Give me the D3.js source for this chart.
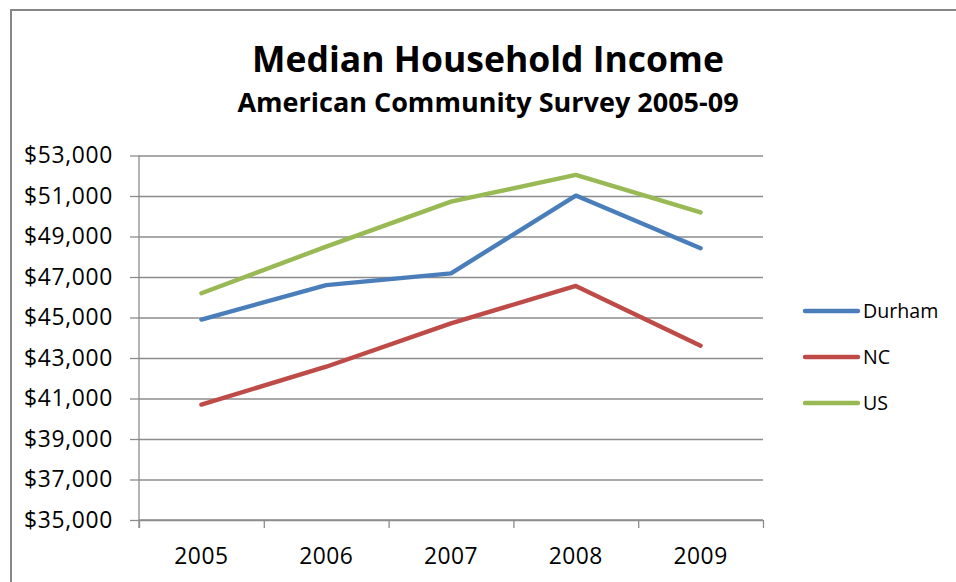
<!DOCTYPE html>
<html>
<head>
<meta charset="utf-8">
<script src="https://cdn.jsdelivr.net/npm/d3@7"></script>
<style>
  html, body { margin: 0; padding: 0; background: #fff; }
  svg { display: block; }
  text { font-family: "Open Sans", "Noto Sans", sans-serif; fill: #000; }
</style>
</head>
<body>
<svg id="chart" width="956" height="582"></svg>
<script>
// ---- data ----
const years = ["2005", "2006", "2007", "2008", "2009"];
const seriesNames = ["Durham", "NC", "US"];
const durham = [44900, 46600, 47180, 51020, 48420];
const nc = [40700, 42570, 44710, 46560, 43610];
const us = [46200, 48500, 50720, 52040, 50190];
const yTicks = [35000, 37000, 39000, 41000, 43000, 45000, 47000, 49000, 51000, 53000];
const titleText = "Median Household Income";
const subtitleText = "American Community Survey 2005-09";

const seriesValues = [durham, nc, us];
const colors = ["#4a7ebb", "#be4b48", "#98b954"];

const svg = d3.select("#chart");

// outer frame
svg.append("rect").attr("x", 11).attr("y", 10).attr("width", 960).attr("height", 600)
  .attr("fill", "#fff").attr("stroke", "#878787").attr("stroke-width", 2);

const pLeft = 139, pRight = 763, pTop = 155.5, pBottom = 520;

const x = d3.scaleBand().domain(years).range([pLeft, pRight]).padding(0);
const xEdge = d3.scaleLinear().domain([0, years.length]).range([pLeft, pRight]);
const y = d3.scaleLinear().domain([35000, 53000]).range([pBottom, pTop]);

// gridlines
svg.append("g").attr("transform", `translate(${pLeft},0)`)
  .call(d3.axisLeft(y).tickValues(yTicks).tickSize(-(pRight - pLeft)).tickFormat(""))
  .call(g => g.select(".domain").remove())
  .call(g => g.selectAll("line").attr("stroke", "#8c8c8c").attr("stroke-width", 1.3));

// y axis
svg.append("g").attr("transform", `translate(${pLeft},0)`)
  .call(d3.axisLeft(y).tickValues(yTicks).tickSize(9).tickPadding(17).tickFormat(d3.format("$,")))
  .call(g => g.select(".domain").attr("stroke", "#8c8c8c").attr("stroke-width", 1.3).attr("d", `M0,${pTop}V${pBottom + 8}`))
  .call(g => g.selectAll("line").attr("stroke", "#8c8c8c").attr("stroke-width", 1.3))
  .call(g => g.selectAll("text").attr("font-size", "22.8px").attr("letter-spacing", "0.7px")
    .attr("font-family", "Open Sans").attr("fill", "#000"));

// x axis boundary ticks
svg.append("g").attr("transform", `translate(0,${pBottom})`)
  .call(d3.axisBottom(xEdge).tickValues(d3.range(years.length + 1)).tickSize(8).tickFormat(""))
  .call(g => g.select(".domain").attr("stroke", "#8c8c8c").attr("stroke-width", 1.3).attr("d", `M${pLeft},0H${pRight}`))
  .call(g => g.selectAll("line").attr("stroke", "#8c8c8c").attr("stroke-width", 1.3));

// x labels
svg.append("g").attr("transform", `translate(0,${pBottom})`)
  .call(d3.axisBottom(x).tickSize(0).tickPadding(28))
  .call(g => g.select(".domain").remove())
  .call(g => g.selectAll("text").attr("font-size", "22.8px").attr("letter-spacing", "0.5px")
    .attr("font-family", "Open Sans").attr("fill", "#000"));

// lines
const line = d3.line().x((d, i) => x(years[i]) + x.bandwidth() / 2).y(d => y(d));
seriesValues.forEach((vals, k) => {
  svg.append("path").datum(vals).attr("d", line)
    .attr("fill", "none").attr("stroke", colors[k]).attr("stroke-width", 4.4)
    .attr("stroke-linejoin", "round").attr("stroke-linecap", "round");
});

// legend
const legY = d3.scalePoint().domain(seriesNames).range([311, 403]);
const leg = svg.append("g");
seriesNames.forEach((name, k) => {
  leg.append("line").attr("x1", 805).attr("x2", 858).attr("y1", legY(name)).attr("y2", legY(name))
    .attr("stroke", colors[k]).attr("stroke-width", 4.4).attr("stroke-linecap", "round");
  leg.append("text").attr("x", 863).attr("y", legY(name)).attr("dy", "0.36em")
    .attr("font-size", "19.6px").text(name);
});

// titles
svg.append("text").attr("x", 488).attr("y", 72).attr("text-anchor", "middle")
  .attr("font-size", "35.5px").attr("font-weight", "bold").text(titleText);
svg.append("text").attr("x", 488).attr("y", 112).attr("text-anchor", "middle")
  .attr("font-size", "27px").attr("font-weight", "bold").text(subtitleText);
</script>
</body>
</html>
